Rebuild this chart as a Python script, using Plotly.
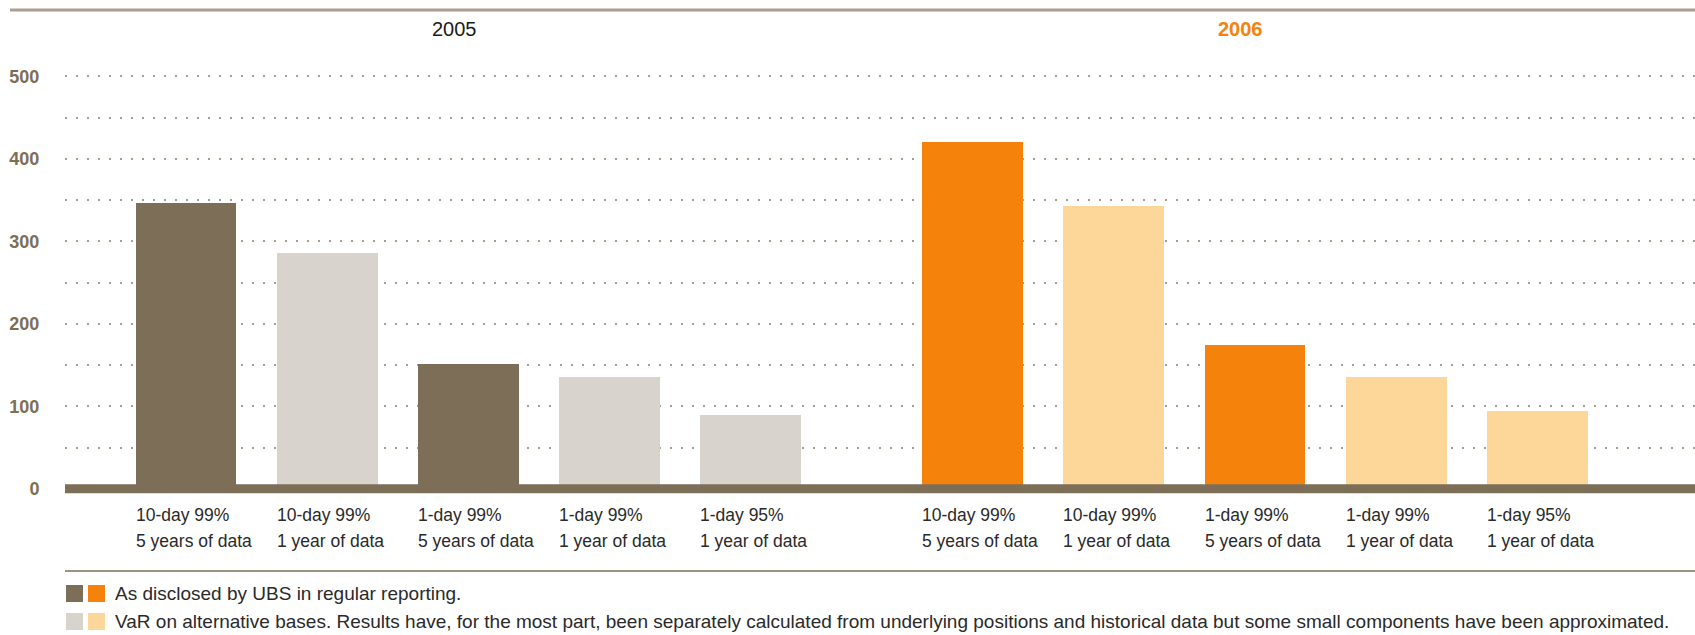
import plotly.graph_objects as go

# ---- data ----
years = ["2005", "2006"]
line1 = ["10-day 99%", "10-day 99%", "1-day 99%", "1-day 99%", "1-day 95%"]
line2 = ["5 years of data", "1 year of data", "5 years of data", "1 year of data", "1 year of data"]
values_2005 = [346, 286, 151, 136, 89]
values_2006 = [421, 343, 174, 136, 94]
disclosed = [True, False, True, False, False]  # as disclosed by UBS vs alternative bases
y_ticks = [0, 100, 200, 300, 400, 500]
legend_texts = [
    "As disclosed by UBS in regular reporting.",
    "VaR on alternative bases. Results have, for the most part, been separately calculated from underlying positions and historical data but some small components have been approximated.",
]

# ---- style ----
W, H = 1695, 635
ML, MR, MT, MB = 65, 0, 60, 138
PW, PH = W - ML - MR, H - MT - MB
BROWN = "#7d6e58"
GREY = "#d8d4cd"
ORANGE = "#f5820a"
LORANGE = "#fdd799"
FONT = "Liberation Sans"
group_offset = [0.0, 5.58]
bar_w = 0.716


def px_x(px):
    return (px - ML) / PW


def px_y(py):
    return (H - MB - py) / PH


fig = go.Figure()
group_vals = [values_2005, values_2006]
group_cols = [(BROWN, GREY), (ORANGE, LORANGE)]
for g, vals in enumerate(group_vals):
    xs = [group_offset[g] + i for i in range(len(vals))]
    cols = [group_cols[g][0] if d else group_cols[g][1] for d in disclosed]
    fig.add_trace(go.Bar(x=xs, y=vals, width=bar_w, marker=dict(color=cols, line=dict(width=0)),
                         showlegend=False, hoverinfo="x+y"))
    for i, x in enumerate(xs):
        for txt, yp in ((line1[i], 515), (line2[i], 541)):
            fig.add_annotation(x=x - bar_w / 2, xref="x", y=px_y(yp), yref="paper",
                               text=txt, showarrow=False, xanchor="left", yanchor="middle",
                               xshift=-2,
                               font=dict(family=FONT, size=17.5, color="#2a2a2a"))
    # year label
    fig.add_annotation(x=xs[2], xref="x", y=px_y(29), yref="paper", xshift=-14,
                       text=("<b>%s</b>" % years[g]) if g == 1 else years[g], showarrow=False,
                       xanchor="center", yanchor="middle",
                       font=dict(family=FONT, size=20, color=ORANGE if g == 1 else "#1a1a1a"))

# baseline (thick) above bars
fig.add_shape(type="line", xref="paper", yref="y", x0=0, x1=1, y0=0, y1=0,
              line=dict(color=BROWN, width=9), layer="above")
# top rule
fig.add_shape(type="line", xref="paper", yref="paper", x0=px_x(10), x1=1, y0=px_y(10), y1=px_y(10),
              line=dict(color="#a9a093", width=3))
# separator above legend
fig.add_shape(type="line", xref="paper", yref="paper", x0=0, x1=1, y0=px_y(571), y1=px_y(571),
              line=dict(color="#9c9282", width=2))

# legend rows
leg_cols = [(BROWN, ORANGE), (GREY, LORANGE)]
for r, (txt, cy) in enumerate(zip(legend_texts, (593, 621))):
    for k, x0 in enumerate((66, 88)):
        fig.add_shape(type="rect", xref="paper", yref="paper",
                      x0=px_x(x0), x1=px_x(x0 + 17), y0=px_y(cy - 8), y1=px_y(cy + 9),
                      fillcolor=leg_cols[r][k], line=dict(width=0))
    fig.add_annotation(x=px_x(113), xref="paper", y=px_y(cy), yref="paper", text=txt,
                       showarrow=False, xanchor="left", yanchor="middle",
                       font=dict(family=FONT, size=19, color="#2a2a2a"))

fig.update_layout(
    width=W, height=H, margin=dict(l=ML, r=MR, t=MT, b=MB),
    paper_bgcolor="white", plot_bgcolor="white", bargap=0,
    xaxis=dict(range=[-0.858, 10.70], showticklabels=False, showgrid=False, zeroline=False,
               showline=False, fixedrange=True),
    yaxis=dict(range=[-10, 520], tickvals=y_ticks, showgrid=True, gridcolor="#a99f90",
               griddash="2px,9px", gridwidth=1.6, zeroline=False, showline=False,
               ticks="outside", ticklen=21, tickcolor="rgba(0,0,0,0)",
               tickfont=dict(family=FONT, size=18, color=BROWN, weight="bold"),
               minor=dict(dtick=50, showgrid=True, gridcolor="#a99f90", griddash="2px,9px",
                          gridwidth=1.6, ticks=""),
               fixedrange=True),
)

fig.write_html("out.html")
